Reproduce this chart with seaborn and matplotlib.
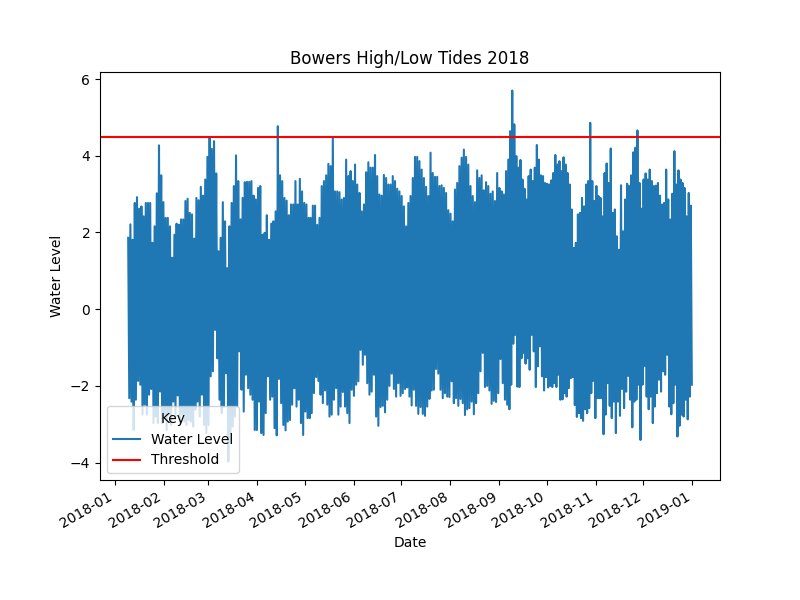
import pandas as pd
import matplotlib
matplotlib.use("Agg")
import matplotlib.pyplot as plt
import matplotlib.dates as mdates
import seaborn as sns

# high and low tide levels, in three stretches of the year
highs_spring = [1.86,2.21,1.81,2.77,2.92,2.62,2.68,2.42,2.77,2.77,2.77,
    1.73,2.16,3.02,4.27,3.49,2.79,2.38,2.38,2.16,1.34,
    1.94,2.23,2.20,2.34,2.34,2.82,2.88,2.51,2.47,1.84,2.90,
    2.84,3.19,2.96,3.38,3.97,4.49,4.18,4.38,3.54,1.51,
    1.86,2.79,2.29,1.07,2.16,2.77,3.21,4.01,3.34,2.34,
    2.90,3.31,3.32,3.32,3.34,2.96,2.86,3.16,3.21,1.94,1.99,
    2.45,1.81,2.23,2.29,2.55,4.77,3.49,3.34,2.90,2.83,
    2.45,2.73,2.73,3.34,2.73,3.40,3.07,2.77,2.73,2.38]
lows_spring = [-2.32,-2.41,-3.15,-2.36,-1.87,-1.97,-2.75,-2.49,-2.75,-2.23,
    -2.08,-2.97,-2.80,-2.97,-2.15,-2.97,-2.75,-3.15,-2.75,-3.02,
    -2.41,-2.80,-2.25,-2.97,-2.75,-2.93,-3.02,-2.89,-2.93,-3.06,
    -2.62,-2.41,-2.80,-2.23,-3.02,-3.23,-3.02,-1.75,-1.62,-0.54,
    -1.28,-2.36,-2.71,-2.54,-1.67,-3.97,-3.23,-3.06,-2.80,-2.54,
    -1.10,-2.10,-2.67,-1.71,-2.06,-2.23,-2.36,-3.15,-3.15,-2.41,
    -3.23,-3.28,-2.71,-1.75,-2.36,-2.28,-3.10,-3.29,-1.82,-2.45,
    -3.02,-3.16,-2.93,-2.89,-2.49,-2.06,-2.54,-2.36,-2.97,-3.28,
    -2.67,-2.84,-2.84]

highs_summer = [2.38,2.70,2.70,2.20,2.38,3.21,3.34,3.49,3.79,3.73,
    4.49,3.07,3.07,3.05,2.86,2.90,3.90,3.47,3.60,3.34,
    3.77,3.25,3.03,2.55,2.73,3.57,3.83,3.69,3.69,4.02,
    3.47,2.99,2.96,3.50,3.42,3.25,3.25,3.47,3.34,3.14,
    3.07,2.95,2.68,2.16,2.77,2.95,3.42,3.97,3.97,3.86,
    3.64,3.42,3.19,2.95,4.08,3.55,3.45,3.45,3.21,3.23,
    3.16,3.03,2.58,2.49,2.29,3.12,3.29,3.73,3.95,4.16,
    3.97,3.77,3.21,2.95,2.79,3.62,3.42,3.49,3.10,3.31,
    3.21,3.01,3.07,2.82,3.55,3.16,3.07,2.99,3.60,3.90]
lows_summer = [-2.71,-2.19,-1.77,-1.87,-2.23,-2.45,-2.12,-2.49,-2.80,-2.75,
    -2.36,-2.06,-2.75,-2.54,-2.16,-2.54,-2.71,-2.97,-2.10,-2.26,
    -1.97,-1.88,-1.06,-1.45,-1.19,-1.93,-2.23,-2.15,-1.71,-2.80,
    -3.04,-2.55,-2.52,-2.69,-2.36,-2.00,-1.68,-2.08,-2.28,-1.93,
    -2.26,-2.19,-2.08,-2.04,-2.28,-2.51,-2.10,-2.52,-2.73,-2.55,
    -2.73,-2.78,-2.54,-2.34,-2.12,-2.10,-1.56,-1.68,-2.10,-2.32,
    -2.19,-2.28,-2.29,-1.88,-2.45,-2.32,-2.52,-2.34,-2.45,-2.76,
    -2.61,-2.58,-2.41,-2.74,-2.45,-2.19,-1.62,-1.14,-2.03,-2.00,
    -2.12,-2.47,-2.39,-2.42,-2.19,-1.30,-1.93,-2.36,-2.49,-2.61]

highs_autumn = [4.64,5.70,4.82,3.99,3.69,3.89,3.38,3.14,2.86,3.47,
    3.64,3.34,3.69,4.28,3.90,3.49,3.47,3.29,3.27,3.25,
    3.36,3.55,4.02,3.77,3.86,3.60,3.96,3.77,3.55,3.25,
    2.60,1.60,1.73,2.47,2.51,2.90,2.68,3.25,3.34,4.86,
    3.34,2.82,3.21,2.95,2.90,2.42,3.55,3.80,3.29,4.19,
    2.51,2.60,1.90,1.55,3.23,2.03,2.86,3.27,3.21,3.49,
    4.09,4.21,4.66,3.29,2.62,3.38,3.54,3.38,3.64,3.34,
    3.21,3.22,3.29,2.96,2.73,2.77,3.64,2.86,2.34,3.01,
    4.12,3.25,3.62,3.38,3.29,3.16,2.42,3.03,2.70]
lows_autumn = [-1.97,-0.90,-0.67,-2.02,-2.03,-1.28,-1.14,-1.42,-1.28,-1.58,
    -0.67,-1.10,-2.03,-1.49,-0.97,-1.75,-2.12,-1.77,-2.04,-2.00,
    -2.03,-1.93,-2.03,-1.71,-2.36,-2.35,-2.19,-2.28,-2.06,-1.80,
    -1.77,-2.50,-2.81,-2.71,-2.84,-2.91,-2.61,-2.71,-2.58,-2.19,
    -1.87,-2.84,-2.32,-2.32,-2.32,-3.26,-2.75,-1.93,-2.52,-2.84,
    -2.41,-3.23,-2.41,-2.78,-2.08,-2.58,-2.15,-1.74,-2.36,-3.08,
    -2.41,-2.36,-1.97,-3.41,-1.97,-1.48,-2.28,-2.61,-2.28,-2.97,
    -2.54,-2.19,-1.84,-2.15,-1.62,-1.71,-1.19,-2.54,-2.74,-2.45,
    -1.97,-3.32,-3.04,-2.75,-2.80,-2.36,-2.87,-2.28,-1.97]

threshold = 4.5


def montarTrecho(inicio, fim, altas, baixas):
    """Alterna maré alta e maré baixa ao longo de um trecho"""
    niveis = [nivel for par in zip(altas, baixas) for nivel in par]
    datas = pd.date_range(inicio, fim, periods=len(niveis))
    return pd.DataFrame({"Date": datas, "Level": niveis})


tides = pd.concat([
    montarTrecho("2018-01-09 12:00", "2018-05-04 07:00", highs_spring, lows_spring),
    montarTrecho("2018-05-04 20:00", "2018-09-07 12:00", highs_summer, lows_summer),
    montarTrecho("2018-09-08 00:00", "2018-12-31 20:00", highs_autumn, lows_autumn),
])

fig, ax = plt.subplots(figsize=(8, 6), dpi=100)
sns.lineplot(data=tides, x="Date", y="Level", estimator=None, sort=False,
             color="#1f77b4", label="Water Level", ax=ax)
ax.axhline(threshold, color="red", label="Threshold")

ax.set_title("Bowers High/Low Tides 2018")
ax.set_xlabel("Date")
ax.set_ylabel("Water Level")
ax.xaxis.set_major_locator(mdates.MonthLocator())
ax.xaxis.set_major_formatter(mdates.DateFormatter("%Y-%m"))
ax.legend(title="Key", loc="lower left")
fig.autofmt_xdate()
fig.savefig("out.png", dpi=100)
print(len(highs_spring), len(lows_spring), len(highs_summer), len(lows_summer), len(highs_autumn), len(lows_autumn))
